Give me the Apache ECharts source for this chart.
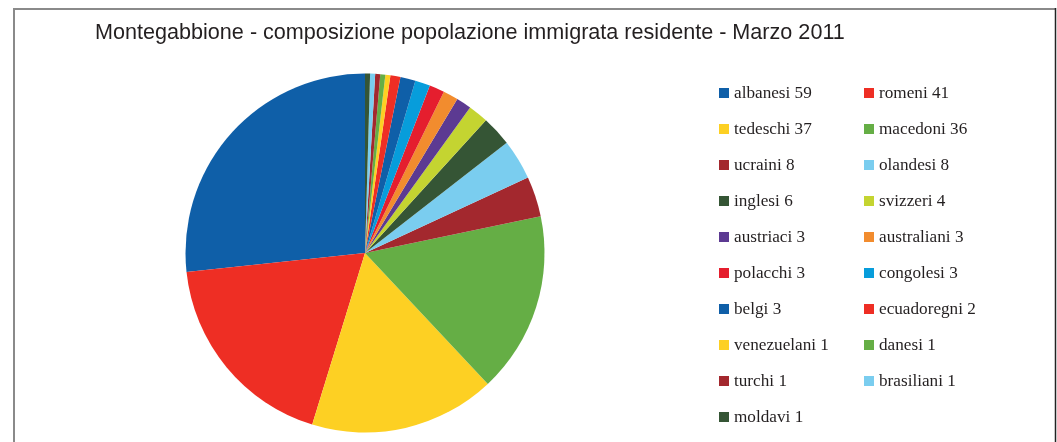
<!DOCTYPE html>
<html><head><meta charset="utf-8">
<script src="https://cdn.jsdelivr.net/npm/echarts@6/dist/echarts.min.js"></script>
<style>html,body{margin:0;padding:0;background:#fff;}#c{width:1057px;height:442px;}</style>
</head><body><div id="c"></div>
<script>
const titleText = 'Montegabbione - composizione popolazione immigrata residente - Marzo 2011';
const categories = ['albanesi','romeni','tedeschi','macedoni','ucraini','olandesi','inglesi','svizzeri','austriaci','australiani','polacchi','congolesi','belgi','ecuadoregni','venezuelani','danesi','turchi','brasiliani','moldavi'];
const values = [59,41,37,36,8,8,6,4,3,3,3,3,3,2,1,1,1,1,1];
const colors = ['#0F5FA8','#EE2E24','#FDD023','#65AE45','#A3282E','#7ACDEF','#355535','#C4D431','#5C3A92','#F28C2E','#E51E2E','#079DDB','#0F5FA8','#EE2E24','#FDD023','#65AE45','#A3282E','#7ACDEF','#355535'];

const names = categories.map((c,i)=>c+' '+values[i]);
const data = names.map((n,i)=>({name:n,value:values[i],itemStyle:{color:colors[i]}}));
const leftCol = names.filter((n,i)=>i%2===0);
const rightCol = names.filter((n,i)=>i%2===1);
const legendBase = {
  orient:'vertical', top:84, padding:0, itemWidth:10, itemHeight:10, itemGap:18, icon:'rect',
  selectedMode:false,
  textStyle:{fontFamily:'Liberation Serif', fontSize:17.2, color:'#231f20', lineHeight:18}
};
const chart = echarts.init(document.getElementById('c'), null, {renderer:'canvas'});
chart.setOption({
  backgroundColor:'#fff',
  animation:false,
  title:{text:titleText, left:95, top:22, padding:0, textStyle:{fontFamily:'Liberation Sans', fontWeight:'normal', fontSize:21.6, color:'#231f20'}},
  legend:[
    Object.assign({}, legendBase, {left:719, data:leftCol}),
    Object.assign({}, legendBase, {left:864, data:rightCol})
  ],
  graphic:[
    {type:'line', shape:{x1:14,y1:9,x2:1055,y2:9}, style:{stroke:'#8a8a8a', lineWidth:2}},
    {type:'line', shape:{x1:14,y1:8,x2:14,y2:442}, style:{stroke:'#8a8a8a', lineWidth:2}},
    {type:'line', shape:{x1:1055.5,y1:8,x2:1055.5,y2:442}, style:{stroke:'#222', lineWidth:1.5}}
  ],
  series:[{
    type:'pie', center:[365,253], radius:179.5, startAngle:90, clockwise:false,
    label:{show:false}, labelLine:{show:false}, emphasis:{disabled:true},
    itemStyle:{borderWidth:0},
    data:data
  }]
});
</script></body></html>
